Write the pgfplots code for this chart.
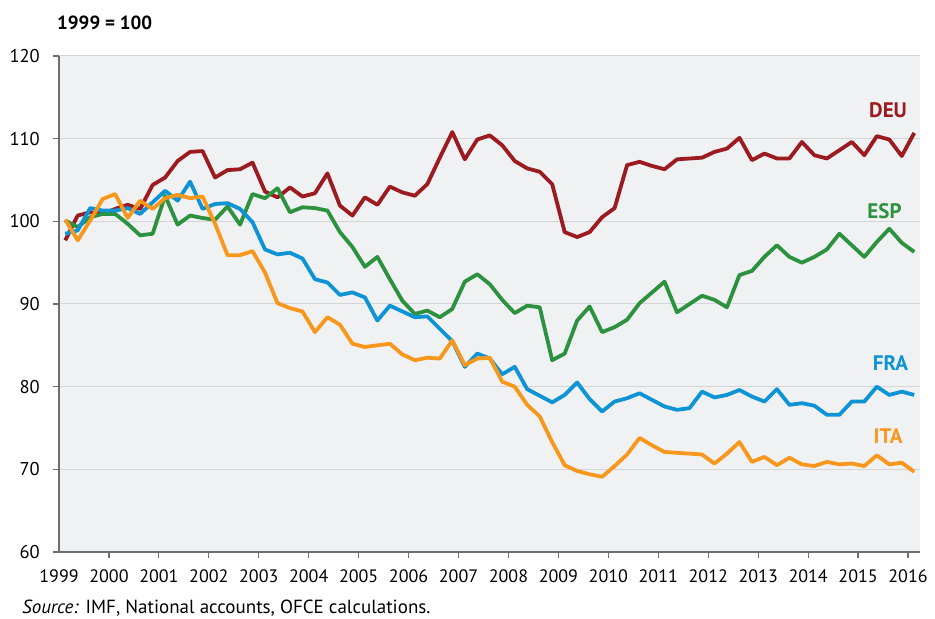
\documentclass[border=0pt]{standalone}
\usepackage{fontspec}
\setmainfont{PT Sans}
\usepackage{pgfplots}
\pgfplotsset{compat=1.18}
\usepackage{pgfplotstable}
\definecolor{deu}{RGB}{155,27,33}
\definecolor{esp}{RGB}{45,146,64}
\definecolor{fra}{RGB}{14,148,212}
\definecolor{ita}{RGB}{247,152,29}
\definecolor{bgc}{RGB}{240,241,243}
\definecolor{gridc}{RGB}{212,213,216}
\definecolor{axc}{RGB}{110,110,110}
\pgfplotstableread{
x deu esp fra ita
1999.125 97.7 100.1 98.5 100.2
1999.375 100.7 99.3 98.9 97.7
1999.625 101.1 100.5 101.6 100.1
1999.875 100.9 100.9 101.3 102.7
2000.125 101.5 100.9 101.3 103.3
2000.375 102.0 99.7 101.6 100.4
2000.625 101.5 98.3 100.9 102.5
2000.875 104.4 98.5 102.3 101.5
2001.125 105.3 103.1 103.7 102.8
2001.375 107.3 99.6 102.5 103.2
2001.625 108.4 100.7 104.8 102.8
2001.875 108.5 100.4 101.5 103.0
2002.125 105.3 100.2 102.1 99.7
2002.375 106.2 101.8 102.2 95.9
2002.625 106.3 99.6 101.5 95.9
2002.875 107.1 103.3 99.9 96.4
2003.125 103.6 102.8 96.6 93.8
2003.375 102.9 104.0 96.0 90.1
2003.625 104.1 101.1 96.2 89.5
2003.875 103.0 101.7 95.5 89.1
2004.125 103.4 101.6 93.0 86.6
2004.375 105.8 101.3 92.6 88.4
2004.625 101.9 98.7 91.1 87.5
2004.875 100.7 96.9 91.4 85.2
2005.125 102.9 94.5 90.8 84.8
2005.375 102.0 95.7 88.0 85.0
2005.625 104.2 93.0 89.8 85.2
2005.875 103.5 90.4 89.1 83.9
2006.125 103.1 88.8 88.4 83.2
2006.375 104.5 89.2 88.5 83.5
2006.625 107.7 88.4 87.0 83.4
2006.875 110.8 89.4 85.5 85.6
2007.125 107.5 92.7 82.4 82.6
2007.375 109.9 93.6 84.0 83.4
2007.625 110.4 92.4 83.4 83.5
2007.875 109.2 90.5 81.5 80.6
2008.125 107.3 88.9 82.4 80.0
2008.375 106.4 89.8 79.7 77.8
2008.625 106.0 89.6 78.9 76.4
2008.875 104.5 83.2 78.1 73.3
2009.125 98.7 84.0 79.0 70.5
2009.375 98.1 88.0 80.5 69.8
2009.625 98.7 89.7 78.5 69.4
2009.875 100.5 86.6 77.0 69.1
2010.125 101.6 87.2 78.2 70.4
2010.375 106.8 88.1 78.6 71.8
2010.625 107.2 90.1 79.2 73.8
2010.875 106.7 91.4 78.4 72.9
2011.125 106.3 92.7 77.6 72.1
2011.375 107.5 89.0 77.2 72.0
2011.625 107.6 90.0 77.4 71.9
2011.875 107.7 91.0 79.4 71.8
2012.125 108.4 90.5 78.7 70.7
2012.375 108.8 89.6 79.0 71.9
2012.625 110.1 93.5 79.6 73.3
2012.875 107.4 94.0 78.8 70.9
2013.125 108.2 95.7 78.2 71.5
2013.375 107.6 97.1 79.7 70.5
2013.625 107.6 95.7 77.8 71.4
2013.875 109.6 95.0 78.0 70.6
2014.125 108.0 95.7 77.7 70.4
2014.375 107.6 96.6 76.6 70.9
2014.625 108.6 98.5 76.6 70.6
2014.875 109.6 97.1 78.2 70.7
2015.125 108.0 95.7 78.2 70.4
2015.375 110.3 97.5 80.0 71.7
2015.625 109.9 99.1 79.0 70.6
2015.875 107.9 97.4 79.4 70.8
2016.125 110.7 96.3 79.0 69.7
}\data
\begin{document}
\begin{tikzpicture}
\path[use as bounding box] (0bp,0bp) rectangle (935bp,619bp);
\begin{axis}[
  at={(59bp,67bp)}, anchor=south west,
  scale only axis, width=861bp, height=496bp,
  xmin=1999, xmax=2016.24, ymin=60, ymax=120,
  axis background/.style={fill=bgc},
  axis x line*=bottom, axis y line*=left,
  axis line style={draw=axc, line width=2bp, -},
  xtick={2000,2001,...,2016},
  extra x ticks={1999},
  extra x tick style={major tick style={draw=none}},
  ytick={60,70,...,120},
  tick align=outside, major tick length=6bp,
  tick style={draw=axc, line width=1.2bp},
  ymajorgrids, grid style={draw=gridc, line width=1bp},
  x tick label style={/pgf/number format/1000 sep={}, anchor=base, yshift=-24bp, font=\fontsize{18bp}{22bp}\selectfont},
  y tick label style={anchor=east, inner sep=0pt, xshift=-13bp, font=\fontsize{18.5bp}{22bp}\selectfont},
  /pgf/number format/assume math mode=true,
  every axis plot/.append style={line width=3.8bp, line join=round, no markers},
]
\addplot[deu] table[x=x, y=deu] {\data};
\addplot[esp] table[x=x, y=esp] {\data};
\addplot[fra] table[x=x, y=fra] {\data};
\addplot[ita] table[x=x, y=ita] {\data};
\node[text=deu, font=\fontsize{21bp}{24bp}\selectfont\bfseries] at (axis cs:2015.6,113.4) {DEU};
\node[text=esp, font=\fontsize{21bp}{24bp}\selectfont\bfseries] at (axis cs:2015.53,101.2) {ESP};
\node[text=fra, font=\fontsize{21bp}{24bp}\selectfont\bfseries] at (axis cs:2015.65,82.8) {FRA};
\node[text=ita, font=\fontsize{21bp}{24bp}\selectfont\bfseries] at (axis cs:2015.6,74.0) {ITA};
\end{axis}
\node[anchor=base west, inner sep=0pt, font=\fontsize{19bp}{22bp}\selectfont\bfseries] at (57bp,589bp) {1999 = 100};
\node[anchor=base west, inner sep=0pt, font=\fontsize{19bp}{22bp}\selectfont] at (22bp,6bp) {\textit{Source:} IMF, National accounts, OFCE calculations.};
\end{tikzpicture}
\end{document}
